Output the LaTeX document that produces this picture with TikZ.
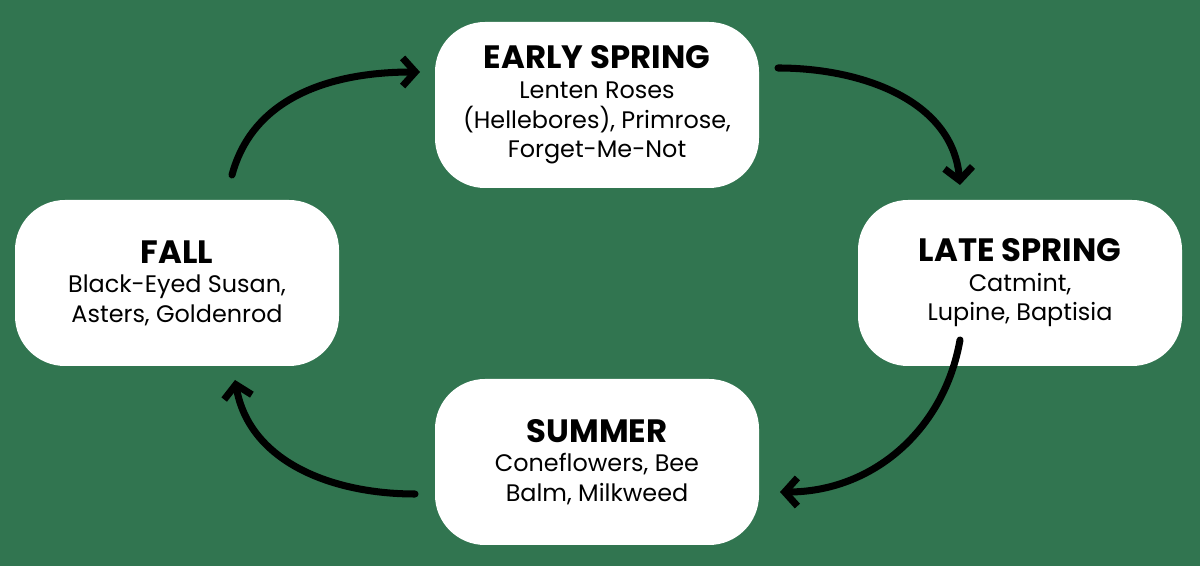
\documentclass[tikz,border=0pt]{standalone}
\usepackage{fontspec}
\setmainfont{Poppins}
\usetikzlibrary{arrows.meta,positioning}
\definecolor{bggreen}{RGB}{49,117,80}
\tikzset{>={Straight Barb[length=9pt,width=20pt]}}

\begin{document}
\begin{tikzpicture}[
    season/.style={fill=white,rounded corners=1.25cm,minimum width=8.1cm,minimum height=4.15cm,align=center,font=\fontsize{17}{21}\selectfont},
    cycle/.style={->,line width=5pt,line cap=round}]
		\fill[bggreen] (0,0) rectangle (30,14.15);
		\node[season] (earlyspring) at (14.925,11.525) {{\fontsize{23}{30}\selectfont\bfseries EARLY SPRING}\\Lenten Roses\\(Hellebores), Primrose,\\Forget-Me-Not};
		\node[season] (latespring)  at (25.5,7.075)   {{\fontsize{23}{36}\selectfont\bfseries LATE SPRING}\\Catmint,\\Lupine, Baptisia};
		\node[season] (summer)      at (14.925,2.6)   {{\fontsize{23}{36}\selectfont\bfseries SUMMER}\\Coneflowers, Bee\\Balm, Milkweed};
		\node[season] (fall)        at (4.425,7.075)  {{\fontsize{23}{36}\selectfont\bfseries FALL}\\Black-Eyed Susan,\\Asters, Goldenrod};
		
		\coordinate (fallout)   at (5.8,9.775);
		\coordinate (esin)      at (10.5,12.35);
		\coordinate (esout)     at (19.45,12.45);
		\coordinate (lsin)      at (24,9.525);
		\coordinate (lsout)     at (24,5.65);
		\coordinate (suin)      at (19.5,1.85);
		\coordinate (suout)     at (10.375,1.8);
		\coordinate (fallin)    at (5.875,4.65);
		
		\draw[cycle] (fallout) to[out=75,in=180] (esin);
		\draw[cycle] (esout) to[out=0,in=95] (lsin);
		\draw[cycle] (lsout) to[out=-100,in=0] (suin);
		\draw[cycle] (suout) to[out=180,in=-80] (fallin);
	\end{tikzpicture}
\end{document}
